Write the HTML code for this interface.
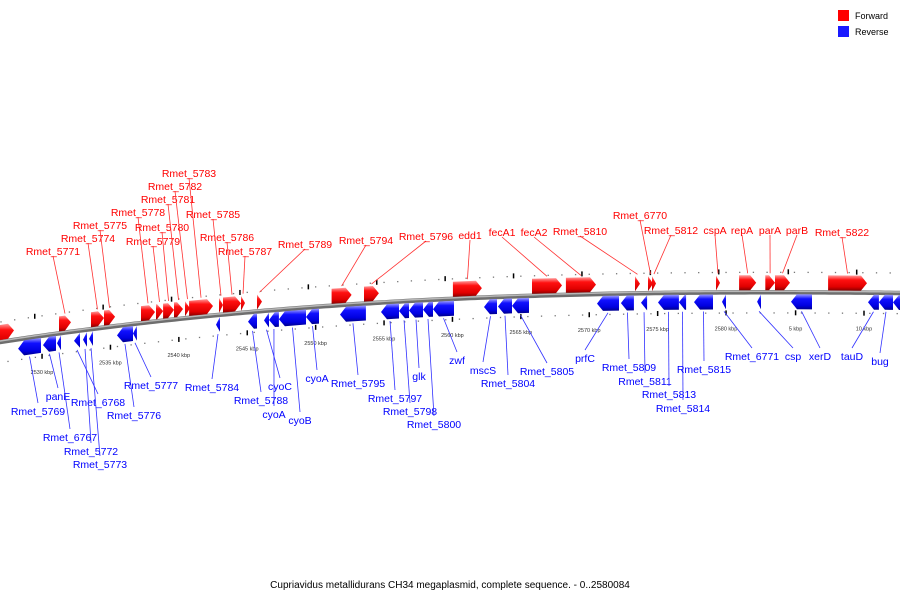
<!DOCTYPE html>
<html><head><meta charset="utf-8"><style>
html,body{margin:0;padding:0;background:#fff;}
svg{display:block;font-family:"Liberation Sans","DejaVu Sans",sans-serif;}
</style></head><body>
<svg id="map" width="900" height="600" viewBox="0 0 900 600">
<defs>
<linearGradient id="gf" x1="0" y1="0" x2="0" y2="1"><stop offset="0" stop-color="#ff9d9d"/><stop offset="0.3" stop-color="#ff1010"/><stop offset="0.75" stop-color="#e00000"/><stop offset="1" stop-color="#8a0000"/></linearGradient>
<linearGradient id="gr" x1="0" y1="0" x2="0" y2="1"><stop offset="0" stop-color="#9d9dff"/><stop offset="0.3" stop-color="#1010ff"/><stop offset="0.75" stop-color="#0000e0"/><stop offset="1" stop-color="#00008a"/></linearGradient>
</defs>
<g>
<rect x="838" y="10" width="11" height="11" fill="#ff0000"/>
<text x="855" y="19" font-size="9" fill="#000">Forward</text>
<rect x="838" y="26" width="11" height="11" fill="#1a1aff"/>
<text x="855" y="35" font-size="9" fill="#000">Reverse</text>
</g>
<text x="450" y="588" font-size="10" text-anchor="middle" fill="#000">Cupriavidus metallidurans CH34 megaplasmid, complete sequence. - 0..2580084</text>
</svg>
<script>
// gene data (positions in kbp, continuous across origin)
const geneNames = ["","Rmet_5771","Rmet_5774","Rmet_5775","Rmet_5778","Rmet_5779","Rmet_5780","Rmet_5781","Rmet_5782","Rmet_5783","Rmet_5785","Rmet_5786","Rmet_5787","Rmet_5789","Rmet_5794","Rmet_5796","edd1","fecA1","fecA2","Rmet_5810","Rmet_6770","Rmet_5812","cspA","repA","parA","parB","Rmet_5822",
"Rmet_5769","panE","Rmet_6767","Rmet_6768","Rmet_5772","Rmet_5773","Rmet_5776","Rmet_5777","Rmet_5784","Rmet_5788","cyoC","cyoA","cyoB","cyoA","Rmet_5795","Rmet_5797","Rmet_5798","glk","Rmet_5800","zwf","mscS","Rmet_5804","Rmet_5805","prfC","Rmet_5809","Rmet_5811","Rmet_5813","Rmet_5814","Rmet_5815","Rmet_6771","csp","xerD","tauD","bug",""];
const geneStart = [2525.0,2531.24,2533.58,2534.53,2537.24,2538.33,2538.85,2539.65,2540.45,2540.75,2542.94,2543.23,2544.55,2545.72,2551.17,2553.54,2560.04,2565.82,2568.30,2573.35,2574.30,2574.59,2579.27,2580.96,2582.87,2583.58,2587.46,
2528.25,2530.07,2531.10,2532.34,2533.00,2533.44,2535.48,2536.65,2542.72,2545.06,2546.23,2546.59,2547.32,2549.30,2551.78,2554.78,2556.10,2556.83,2557.85,2558.58,2562.31,2563.33,2564.36,2570.57,2572.32,2573.79,2575.03,2576.56,2577.66,2579.71,2582.27,2584.75,2590.38,2591.18,2592.21];
const geneEnd = [2527.95,2532.12,2534.53,2535.34,2538.26,2538.85,2539.65,2540.31,2540.82,2542.50,2543.23,2544.55,2544.84,2546.08,2552.63,2554.63,2562.16,2568.01,2570.50,2573.71,2574.67,2574.88,2579.56,2582.21,2583.58,2584.68,2590.31,
2529.93,2531.02,2531.39,2532.78,2533.29,2533.73,2536.65,2536.94,2543.01,2545.72,2546.59,2547.32,2549.30,2550.25,2553.68,2556.10,2556.83,2557.85,2558.58,2560.12,2563.26,2564.36,2565.60,2572.18,2573.27,2574.23,2576.56,2577.08,2579.05,2580.00,2582.56,2586.29,2591.18,2592.21,2593.20];
const geneStrand = [1,1,1,1,1,1,1,1,1,1,1,1,1,1,1,1,1,1,1,1,1,1,1,1,1,1,1,
-1,-1,-1,-1,-1,-1,-1,-1,-1,-1,-1,-1,-1,-1,-1,-1,-1,-1,-1,-1,-1,-1,-1,-1,-1,-1,-1,-1,-1,-1,-1,-1,-1,-1,-1];
// label layout (centre of text), separate from data
const labelX = [0,53,88,100,138,153,162,168,175,189,213,227,245,305,366,426,470,502,534,580,640,671,715,742,770,797,842,
38,58,70,98,91,100,134,151,212,261,280,274,300,317,358,395,410,419,434,457,483,508,547,585,629,645,669,683,704,752,793,820,852,880,0];
const labelY = [0,251,238,225,212,241,227,199,186,173,214,237,251,244,240,236,235,232,232,231,215,230,230,230,230,230,232,
411,396,437,402,451,464,415,385,387,400,386,414,420,378,383,398,411,376,424,360,370,383,371,358,367,381,394,408,369,356,356,356,356,361,0];
// axis ticks
const tickKbp = [2530,2535,2540,2545,2550,2555,2560,2565,2570,2575,2580,2585.084,2590.084];
const tickLabels = ["2530 kbp","2535 kbp","2540 kbp","2545 kbp","2550 kbp","2555 kbp","2560 kbp","2565 kbp","2570 kbp","2575 kbp","2580 kbp","5 kbp","10 kbp"];

const svg = document.getElementById('map');
const NS = 'http://www.w3.org/2000/svg';
function xScale(k){ return 42 + (k - 2530) * 13.68; }
const BX=[0,300,600,900], BY=[342,308,294,293];
function bb(x){ let s=0; for(let i=0;i<4;i++){ let t=BY[i]; for(let j=0;j<4;j++){ if(j!==i) t*= (x-BX[j])/(BX[i]-BX[j]); } s+=t; } return s; }
function mk(tag, attrs){ const e=document.createElementNS(NS,tag); for(const k in attrs) e.setAttribute(k,attrs[k]); return e; }

// backbone
let d=''; for(let x=-5;x<=905;x+=5){ d+=(x===-5?'M':'L')+x+','+bb(x).toFixed(2)+' '; }
const bbDark = mk('path',{d:d,fill:'none',stroke:'#6e6e6e','stroke-width':4.5});


svg.appendChild(bbDark);
let d2=''; for(let x=-5;x<=905;x+=5){ d2+=(x===-5?'M':'L')+x+','+(bb(x)-1).toFixed(2)+' '; }
const bbLight = mk('path',{d:d2,fill:'none',stroke:'#b8b8b8','stroke-width':1.5});


svg.appendChild(bbLight);

// tick dots
for(let k=2527;k<=2594;k++){
  const x=xScale(k);
  const up = mk('rect',{x:x-0.6,y:bb(x)-20.6,width:1.3,height:1.3,fill:'#777'});
  
  
  svg.appendChild(up);
  const lo = mk('rect',{x:x-0.6+7,y:bb(x+7)+20,width:1.3,height:1.3,fill:'#777'});
  
  
  svg.appendChild(lo);
}
tickKbp.forEach((k,i)=>{
  const x=xScale(k);
  const t1 = mk('rect',{x:x-8,y:bb(x-7)-23,width:1.5,height:5,fill:'#000'});
  
  
  svg.appendChild(t1);
  const t2 = mk('rect',{x:x-0.7,y:bb(x)+18,width:1.5,height:5,fill:'#000'});
  
  
  svg.appendChild(t2);
  const tl = mk('text',{x:x,y:bb(x)+38,'font-size':5.5,'text-anchor':'middle',fill:'#333'});
  tl.textContent = tickLabels[i];
  
  
  svg.appendChild(tl);
});

// genes
geneNames.forEach((name,i)=>{
  const x1=xScale(geneStart[i]), x2=xScale(geneEnd[i]), s=geneStrand[i];
  const h=Math.min(6,x2-x1);
  const top = s>0 ? -17 : 2, bot = s>0 ? -2 : 17, mid=(top+bot)/2;
  let pts;
  if(s>0){
    pts=[[x1,bb(x1)+top],[x2-h,bb(x2-h)+top],[x2,bb(x2)+mid],[x2-h,bb(x2-h)+bot],[x1,bb(x1)+bot]];
  } else {
    pts=[[x1,bb(x1)+mid],[x1+h,bb(x1+h)+top],[x2,bb(x2)+top],[x2,bb(x2)+bot],[x1+h,bb(x1+h)+bot]];
  }
  const poly = mk('polygon',{points:pts.map(p=>p[0].toFixed(1)+','+p[1].toFixed(1)).join(' '),fill:s>0?'url(#gf)':'url(#gr)'});
  
  
  svg.appendChild(poly);
  if(!name) return;
  const cx=(x1+x2)/2, col = s>0?'#ff0000':'#0000ff';
  const ly = labelY[i], lx = labelX[i];
  const gy = s>0 ? bb(cx)-19 : bb(cx)+19;
  const ey = s>0 ? ly+5 : ly-8;
  const ln = mk('line',{x1:cx,y1:gy,x2:lx,y2:ey,stroke:s>0?'#ff3030':'#3030ff','stroke-width':0.8});
  
  
  svg.appendChild(ln);
  const tx = mk('text',{x:lx,y:ly+4,'font-size':10.5,'text-anchor':'middle',fill:col});
  tx.textContent = name;
  
  
  svg.appendChild(tx);
});
</script>
</body></html>
